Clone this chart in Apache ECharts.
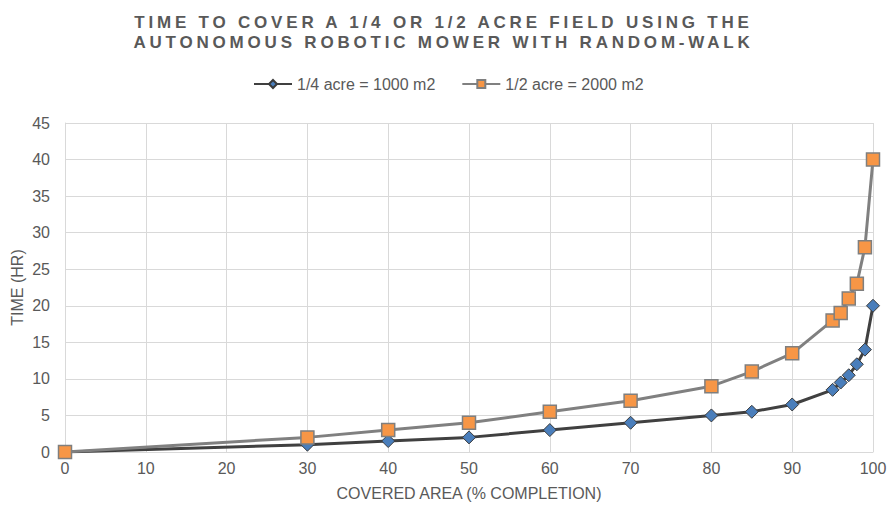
<!DOCTYPE html>
<html>
<head>
<meta charset="utf-8">
<script src="https://cdn.jsdelivr.net/npm/echarts@6/dist/echarts.min.js"></script>
<style>
  html, body { margin: 0; padding: 0; background: #ffffff; }
  #chart { width: 887px; height: 505px; }
</style>
</head>
<body>
<div id="chart"></div>
<script>
// Coverage percentage sampled during the runs
const coverage = [0, 30, 40, 50, 60, 70, 80, 85, 90, 95, 96, 97, 98, 99, 100];
// Hours needed to reach each coverage level
const quarterAcreHours = [0, 1, 1.5, 2, 3, 4, 5, 5.5, 6.5, 8.5, 9.5, 10.5, 12, 14, 20];
const halfAcreHours = [0, 2, 3, 4, 5.5, 7, 9, 11, 13.5, 18, 19, 21, 23, 28, 40];

const seriesNames = ['1/4 acre = 1000 m2', '1/2 acre = 2000 m2'];
const titleLines = [
  'TIME TO COVER A 1/4 OR 1/2 ACRE FIELD USING THE',
  'AUTONOMOUS ROBOTIC MOWER WITH RANDOM-WALK'
];
const xAxisName = 'COVERED AREA (% COMPLETION)';
const yAxisName = 'TIME (HR)';

const pairs = (xs, ys) => xs.map((x, i) => [x, ys[i]]);

const FONT = '"Liberation Sans", Arial, sans-serif';
const TEXT = '#595959';
const GRID = '#d9d9d9';

const chart = echarts.init(document.getElementById('chart'), null, { renderer: 'svg' });

chart.setOption({
  animation: false,
  backgroundColor: '#ffffff',
  textStyle: { fontFamily: FONT },
  title: {
    text: titleLines.join('\n'),
    left: 'center',
    top: 7,
    textStyle: {
      fontFamily: FONT,
      fontSize: 17,
      fontWeight: 'bold',
      color: TEXT,
      lineHeight: 20
    }
  },
  legend: {
    top: 76,
    left: 253,
    padding: 0,
    itemWidth: 38,
    itemHeight: 10,
    itemGap: 26,
    textStyle: { fontFamily: FONT, fontSize: 16, color: TEXT },
    data: seriesNames
  },
  grid: {
    left: 65,
    right: 14,
    top: 123,
    bottom: 53,
    containLabel: false,
    outerBoundsMode: 'none'
  },
  xAxis: {
    type: 'value',
    min: 0,
    max: 100,
    interval: 10,
    name: xAxisName,
    nameLocation: 'middle',
    nameGap: 33,
    nameMoveOverlap: false,
    nameTextStyle: { fontFamily: FONT, fontSize: 16, color: TEXT },
    axisLine: { show: true, lineStyle: { color: GRID, width: 1 } },
    axisTick: { show: false },
    axisLabel: { fontFamily: FONT, fontSize: 16, color: TEXT, margin: 8 },
    splitLine: { show: true, lineStyle: { color: GRID, width: 1 } }
  },
  yAxis: {
    type: 'value',
    min: 0,
    max: 45,
    interval: 5,
    name: yAxisName,
    nameLocation: 'middle',
    nameGap: 40,
    nameMoveOverlap: false,
    nameTextStyle: { fontFamily: FONT, fontSize: 16, color: TEXT },
    axisLine: { show: true, lineStyle: { color: GRID, width: 1 } },
    axisTick: { show: false },
    axisLabel: { fontFamily: FONT, fontSize: 16, color: TEXT, margin: 15 },
    splitLine: { show: true, lineStyle: { color: GRID, width: 1 } }
  },
  series: [
    {
      name: seriesNames[0],
      type: 'line',
      data: pairs(coverage, quarterAcreHours),
      symbol: 'diamond',
      symbolSize: 13,
      lineStyle: { color: '#404040', width: 3 },
      itemStyle: { color: '#4a7ebb', borderColor: '#3a3a3a', borderWidth: 1 },
      z: 2
    },
    {
      name: seriesNames[1],
      type: 'line',
      data: pairs(coverage, halfAcreHours),
      symbol: 'rect',
      symbolSize: 13,
      lineStyle: { color: '#808080', width: 3 },
      itemStyle: { color: '#f79646', borderColor: '#7f7f7f', borderWidth: 1.5 },
      z: 3
    }
  ]
});

// Spread out the title lettering the way the heading is typeset
function spaceTitle() {
  document.querySelectorAll('#chart svg text').forEach(function (el) {
    if (titleLines.indexOf(el.textContent) !== -1) {
      el.style.letterSpacing = '3.8px';
    }
  });
}
spaceTitle();
chart.on('finished', spaceTitle);
</script>
</body>
</html>
